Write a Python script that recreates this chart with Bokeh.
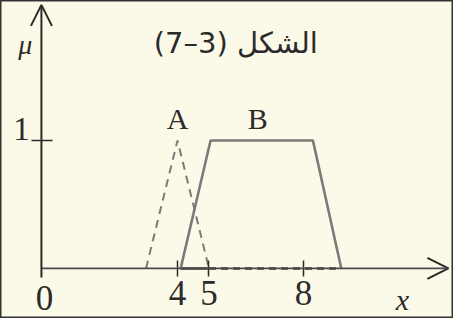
from bokeh.plotting import figure
from bokeh.models import Arrow, OpenHead, FixedTicker, Range1d
from bokeh.core.properties import value
from bokeh.embed import file_html
from bokeh.resources import INLINE

# ---- data ----
A_x = [3, 4, 5]
A_y = [0, 1, 0]
B_x = [4.1, 5.05, 8.3, 9.2]
B_y = [0, 1, 1, 0]
x_ticks = [4, 5, 8]
y_ticks = [1]
y_tick_labels = ["1"]
set_labels = ["A", "B"]
set_label_x = [4.0, 6.55]
set_label_y = [1.17, 1.17]
title_text = "\u202bالشكل (3–7)\u202c"

BG = "#fbf9e7"
INK = "#2b2b2b"
GREY = "#7a7a7a"
Y_AXIS_X = -0.32

p = figure(width=453, height=318,
           x_range=Range1d(-1.619, 12.762), y_range=Range1d(-0.391, 2.094),
           output_backend="svg", toolbar_location=None, min_border=0,
           background_fill_color=BG, border_fill_color=BG,
           outline_line_color="#333333", outline_line_width=2)
p.grid.visible = False

# axes (library axes pinned inside the frame)
for ax in p.xaxis:
    ax.fixed_location = 0
    ax.ticker = FixedTicker(ticks=x_ticks)
    ax.axis_line_color = None
    ax.minor_tick_line_color = None
    ax.major_tick_in = 8
    ax.major_tick_out = 8
    ax.major_tick_line_width = 1.5
    ax.major_tick_line_color = INK
    ax.major_label_text_font = "Liberation Serif"
    ax.major_label_text_font_size = "35px"
    ax.major_label_text_color = INK
    ax.major_label_standoff = 5
for ax in p.yaxis:
    ax.fixed_location = Y_AXIS_X
    ax.ticker = FixedTicker(ticks=y_ticks)
    ax.major_label_overrides = {1: ""}
    ax.axis_line_color = None
    ax.minor_tick_line_color = None
    ax.major_tick_in = 11
    ax.major_tick_out = 10
    ax.major_tick_line_width = 1.5
    ax.major_tick_line_color = INK

# axis arrows
p.add_layout(Arrow(end=OpenHead(size=21, line_color=INK, line_width=2),
                   x_start=Y_AXIS_X, y_start=0, x_end=12.6, y_end=0,
                   line_color="#4a4a4a", line_width=1.7))
p.add_layout(Arrow(end=OpenHead(size=21, line_color=INK, line_width=2),
                   x_start=Y_AXIS_X, y_start=-0.07, x_end=Y_AXIS_X, y_end=2.06,
                   line_color=INK, line_width=2))

# overlaps on the x axis
p.line([B_x[0], A_x[-1]], [0, 0], line_color="#333333", line_width=2.4)
p.line([A_x[-1], B_x[-1]], [0, 0], line_color="#333333", line_width=2.4, line_dash="7 5")

# fuzzy sets
p.line(A_x, A_y, line_color=GREY, line_width=2, line_dash="8 6")
p.line(B_x, B_y, line_color=GREY, line_width=2.6)

# texts
p.text(x=[-0.95], y=[1.09], text=y_tick_labels, text_font=value("Liberation Serif"),
       text_font_size="33px", text_color=INK, text_align="center", text_baseline="middle")
p.text(x=set_label_x, y=set_label_y, text=set_labels, text_font=value("Liberation Serif"),
       text_font_size="30px", text_color=INK, text_align="center", text_baseline="middle")
p.text(x=[-0.22], y=[-0.23], text=["0"], text_font=value("Liberation Serif"),
       text_font_size="35px", text_color=INK, text_align="center", text_baseline="middle")
p.text(x=[11.14], y=[-0.24], text=["x"], text_font=value("Liberation Serif"),
       text_font_style="italic", text_font_size="30px", text_color=INK,
       text_align="center", text_baseline="middle")
p.text(x=[-0.83], y=[1.75], text=["μ"], text_font=value("Liberation Serif"),
       text_font_style="italic", text_font_size="28px", text_color=INK,
       text_align="center", text_baseline="middle")
p.text(x=[5.85], y=[1.76], text=[title_text], text_font=value("DejaVu Sans"),
       text_font_size="29px", text_color=INK, text_align="center", text_baseline="middle")

html = file_html(p, INLINE)
html = html.replace("<body>", '<body style="background:%s">' % BG, 1)
open("out.html", "w").write(html)
